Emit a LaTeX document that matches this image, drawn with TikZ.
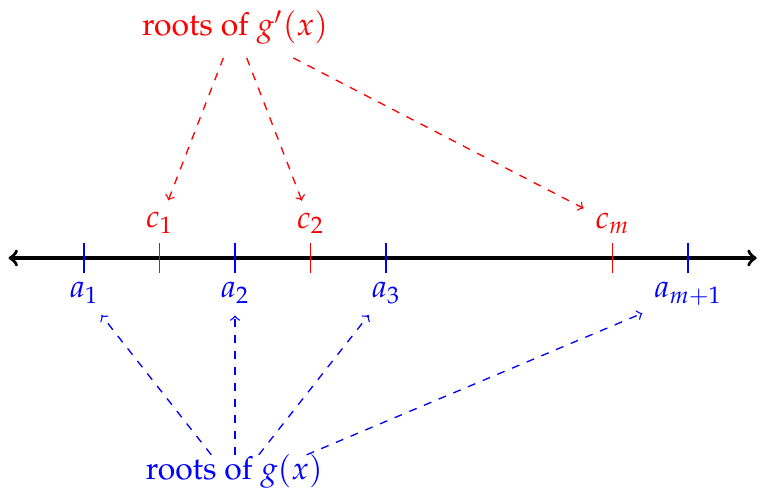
\documentclass[tikz,border=0pt]{standalone}
\usepackage[T1]{fontenc}
\usepackage{mathpazo}
\usetikzlibrary{calc}
\begin{document}
\begin{tikzpicture}[
  every node/.style={font=\large},
  tickmark/.style={line width=0.5pt},
  hub/.style={draw=none, inner sep=0pt, outer sep=0pt, minimum width=2.4cm, minimum height=0.8cm},
  rarrow/.style={draw=red, dashed, ->, line width=0.5pt, shorten >=1pt},
  barrow/.style={draw=blue, dashed, ->, line width=0.5pt, shorten >=1pt},
  axisline/.style={<->, line width=1.3pt}
]
\useasboundingbox (-0.113,-3.205) rectangle (9.94,3.417);
% axis
\coordinate (L) at (0,0);
\coordinate (R) at (9.91,0);
\draw[axisline] (L) -- (R);
% ticks
\foreach \x/\c in {1/blue,3/blue,5/blue,9/blue,2/red,4/red,8/red}{
  \draw[tickmark,draw=\c] (\x,-0.2) -- (\x,0.2);
}
% labels
\node[red, anchor=south] (c1) at (2,0.2) {$c_1$};
\node[red, anchor=south] (c2) at (4,0.2) {$c_2$};
\node[red, anchor=south] (cm) at (8,0.2) {$c_m$};
\node[blue, anchor=north] (a1) at (1,-0.2) {$a_1$};
\node[blue, anchor=north] (a2) at (3,-0.2) {$a_2$};
\node[blue, anchor=north] (a3) at (5,-0.2) {$a_3$};
\node[blue, anchor=north] (am) at (9,-0.2) {$a_{m+1}$};
% top and bottom texts
\node[red, hub] (gp) at (3,3.05) {roots of $g'(x)$};
\node[blue] (g) at (2.99,-2.83) {roots of $g(x)$};
\node[hub] (ghub) at (3,-3.007) {};
% arrows
\draw[rarrow] (gp) -- (c1);
\draw[rarrow] (gp) -- (c2);
\draw[rarrow] (gp) -- (cm);
\draw[barrow] (ghub) -- (a1);
\draw[barrow] (ghub) -- (a2);
\draw[barrow] (ghub) -- (a3);
\draw[barrow] (ghub) -- (am);
\end{tikzpicture}
\end{document}
